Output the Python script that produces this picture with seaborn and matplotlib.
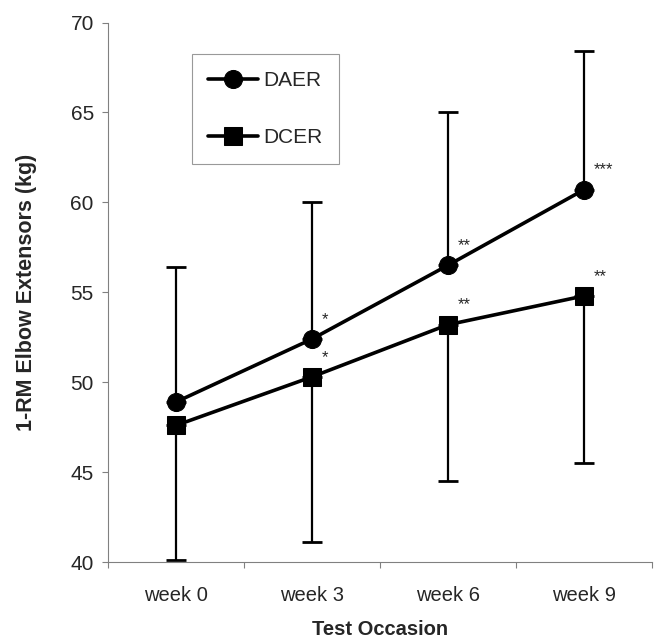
import pandas as pd
import matplotlib
matplotlib.use("Agg")
import matplotlib.pyplot as plt
import seaborn as sns

# values
weeks = ["week 0", "week 3", "week 6", "week 9"]
daer_mean = [48.9, 52.4, 56.5, 60.7]
daer_sd = [7.5, 7.6, 8.5, 7.7]
dcer_mean = [47.6, 50.3, 53.2, 54.8]
dcer_sd = [7.5, 9.2, 8.7, 9.3]
daer_stars = ["", "*", "**", "***"]
dcer_stars = ["", "*", "**", "**"]

sns.set_style("ticks")
plt.rcParams["font.family"] = ["Liberation Sans", "DejaVu Sans"]

df = pd.DataFrame({
    "week": weeks * 2,
    "kg": daer_mean + dcer_mean,
    "group": ["DAER"] * 4 + ["DCER"] * 4,
})

fig = plt.figure(figsize=(6.57, 6.44), dpi=100)
ax = fig.add_axes([0.164, 0.127, 0.828, 0.838])

# error bars: DAER upward only, DCER downward only
pos = list(range(len(weeks)))
ax.errorbar(pos, daer_mean, yerr=[[0] * 4, daer_sd], fmt="none",
            ecolor="black", elinewidth=1.6, capsize=7, capthick=2, zorder=1)
ax.errorbar(pos, dcer_mean, yerr=[dcer_sd, [0] * 4], fmt="none",
            ecolor="black", elinewidth=1.6, capsize=7, capthick=2, zorder=1)

sns.lineplot(data=df, x="week", y="kg", style="group",
             markers={"DAER": "o", "DCER": "s"}, dashes=False,
             color="black", linewidth=2.6, markersize=13,
             markeredgecolor="black", ax=ax, zorder=3)

for i, (s1, s2) in enumerate(zip(daer_stars, dcer_stars)):
    if s1:
        ax.annotate(s1, (i, daer_mean[i]), xytext=(7, 11), textcoords="offset points",
                    fontsize=12, ha="left")
    if s2:
        ax.annotate(s2, (i, dcer_mean[i]), xytext=(7, 11), textcoords="offset points",
                    fontsize=12, ha="left")

ax.set_xlim(-0.5, 3.5)
ax.set_ylim(40, 70)
ax.set_yticks([40, 45, 50, 55, 60, 65, 70])
ax.set_xticks(pos)
ax.set_xticks([-0.5, 0.5, 1.5, 2.5, 3.5], minor=True)
ax.tick_params(axis="x", which="major", length=0, labelsize=14.5, pad=17)
ax.tick_params(axis="x", which="minor", length=4, width=0.8, color="gray")
ax.tick_params(axis="y", length=4, width=0.8, color="gray", labelsize=15, pad=6)

for side in ["top", "right"]:
    ax.spines[side].set_visible(False)
for side in ["left", "bottom"]:
    ax.spines[side].set_color("gray")
    ax.spines[side].set_linewidth(0.8)

ax.set_xlabel("Test Occasion", fontsize=14.5, fontweight="bold", labelpad=11)
ax.set_ylabel("1-RM Elbow Extensors (kg)", fontsize=15.5, fontweight="bold", labelpad=24)

leg = ax.legend(title=None, loc="upper left", bbox_to_anchor=(0.154, 0.941),
                fontsize=15, frameon=True, fancybox=False, handlelength=2.4,
                labelspacing=1.84, borderpad=0.8, handletextpad=0.25,
                borderaxespad=0)
leg.get_frame().set_edgecolor("gray")
leg.get_frame().set_linewidth(0.8)

fig.savefig("out.png", dpi=100)
